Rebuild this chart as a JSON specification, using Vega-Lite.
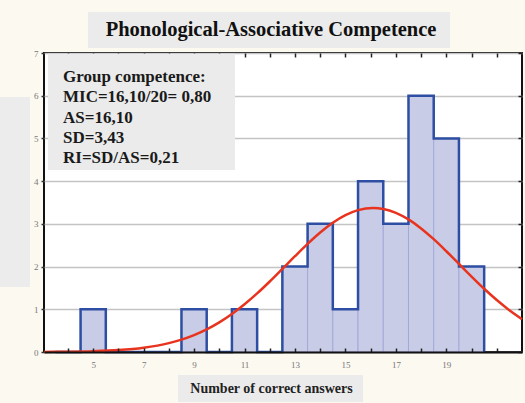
{
  "$schema": "https://vega.github.io/schema/vega-lite/v6.json",
  "width": 478,
  "height": 299,
  "autosize": {"type": "none"},
  "padding": {"left": 44, "top": 53, "right": 3, "bottom": 51},
  "background": "#fcf9f1",
  "config": {
    "view": {"stroke": "#111111", "strokeWidth": 2, "fill": "#ffffff"},
    "font": "Liberation Serif"
  },
  "datasets": {
    "bins": [
      {"bin_start": 3.5, "bin_end": 4.5, "count": 0},
      {"bin_start": 4.5, "bin_end": 5.5, "count": 1},
      {"bin_start": 5.5, "bin_end": 6.5, "count": 0},
      {"bin_start": 6.5, "bin_end": 7.5, "count": 0},
      {"bin_start": 7.5, "bin_end": 8.5, "count": 0},
      {"bin_start": 8.5, "bin_end": 9.5, "count": 1},
      {"bin_start": 9.5, "bin_end": 10.5, "count": 0},
      {"bin_start": 10.5, "bin_end": 11.5, "count": 1},
      {"bin_start": 11.5, "bin_end": 12.5, "count": 0},
      {"bin_start": 12.5, "bin_end": 13.5, "count": 2},
      {"bin_start": 13.5, "bin_end": 14.5, "count": 3},
      {"bin_start": 14.5, "bin_end": 15.5, "count": 1},
      {"bin_start": 15.5, "bin_end": 16.5, "count": 4},
      {"bin_start": 16.5, "bin_end": 17.5, "count": 3},
      {"bin_start": 17.5, "bin_end": 18.5, "count": 6},
      {"bin_start": 18.5, "bin_end": 19.5, "count": 5},
      {"bin_start": 19.5, "bin_end": 20.5, "count": 2},
      {"bin_start": 20.5, "bin_end": 21.5, "count": 0}
    ],
    "curve": [
      {"answers": 3.05, "expected": 0.0025},
      {"answers": 4, "expected": 0.0067},
      {"answers": 5, "expected": 0.018},
      {"answers": 6, "expected": 0.044},
      {"answers": 7, "expected": 0.1},
      {"answers": 8, "expected": 0.2075},
      {"answers": 8.5, "expected": 0.29},
      {"answers": 9, "expected": 0.396},
      {"answers": 9.5, "expected": 0.53},
      {"answers": 10, "expected": 0.694},
      {"answers": 10.5, "expected": 0.89},
      {"answers": 11, "expected": 1.117},
      {"answers": 11.5, "expected": 1.372},
      {"answers": 12, "expected": 1.651},
      {"answers": 12.5, "expected": 1.945},
      {"answers": 13, "expected": 2.242},
      {"answers": 13.5, "expected": 2.531},
      {"answers": 14, "expected": 2.797},
      {"answers": 14.5, "expected": 3.025},
      {"answers": 15, "expected": 3.204},
      {"answers": 15.5, "expected": 3.322},
      {"answers": 16.1, "expected": 3.373},
      {"answers": 16.5, "expected": 3.35},
      {"answers": 17, "expected": 3.259},
      {"answers": 17.5, "expected": 3.104},
      {"answers": 18, "expected": 2.893},
      {"answers": 18.5, "expected": 2.641},
      {"answers": 19, "expected": 2.359},
      {"answers": 19.5, "expected": 2.064},
      {"answers": 20, "expected": 1.767},
      {"answers": 20.5, "expected": 1.481},
      {"answers": 21, "expected": 1.216},
      {"answers": 21.5, "expected": 0.977},
      {"answers": 22, "expected": 0.768}
    ]
  },
  "layer": [
    {
      "data": {"values": [{}]},
      "mark": {"type": "rect", "fill": "#ececec"},
      "encoding": {
        "x": {"datum": 1.305, "type": "quantitative", "scale": {"domain": [3.05, 22], "nice": false}, "axis": null},
        "x2": {"datum": 2.495},
        "y": {"datum": 1.522, "type": "quantitative", "scale": {"domain": [0, 7], "nice": false}, "axis": null},
        "y2": {"datum": 5.97}
      }
    },
    {
      "data": {"values": [{}]},
      "mark": {"type": "rect", "fill": "#ebebeb"},
      "encoding": {
        "x": {"datum": 4.795, "type": "quantitative", "scale": {"domain": [3.05, 22], "nice": false}, "axis": null},
        "x2": {"datum": 19.148},
        "y": {"datum": 7.117, "type": "quantitative", "scale": {"domain": [0, 7], "nice": false}, "axis": null},
        "y2": {"datum": 7.96}
      }
    },
    {
      "data": {"values": [{}]},
      "mark": {
        "type": "text",
        "text": "Phonological-Associative Competence",
        "align": "center",
        "baseline": "middle",
        "font": "Liberation Serif",
        "fontSize": 20.5,
        "fontWeight": "bold",
        "color": "#111111"
      },
      "encoding": {
        "x": {"datum": 12.05, "type": "quantitative", "scale": {"domain": [3.05, 22], "nice": false}, "axis": null},
        "y": {"datum": 7.538, "type": "quantitative", "scale": {"domain": [0, 7], "nice": false}, "axis": null}
      }
    },
    {
      "data": {"values": [{}]},
      "mark": {"type": "rect", "fill": "#ebebeb"},
      "encoding": {
        "x": {"datum": 8.363, "type": "quantitative", "scale": {"domain": [3.05, 22], "nice": false}, "axis": null},
        "x2": {"datum": 15.699},
        "y": {"datum": -0.538, "type": "quantitative", "scale": {"domain": [0, 7], "nice": false}, "axis": null},
        "y2": {"datum": -1.171}
      }
    },
    {
      "data": {"name": "bins"},
      "transform": [{"filter": "datum.count > 0"}],
      "mark": {"type": "rect", "fill": "#c9cce6", "stroke": "#a3aad8", "strokeWidth": 1},
      "encoding": {
        "x": {
          "field": "bin_start",
          "type": "quantitative",
          "scale": {"domain": [3.05, 22], "nice": false},
          "axis": {
            "orient": "bottom",
            "values": [4, 5, 6, 7, 8, 9, 10, 11, 12, 13, 14, 15, 16, 17, 18, 19, 20, 21],
            "labelExpr": "datum.value % 2 == 1 && datum.value < 20 ? datum.label : ''",
            "tickSize": -4,
            "tickColor": "#222222",
            "tickWidth": 1.5,
            "domain": true,
            "domainColor": "#111111",
            "domainWidth": 2,
            "grid": false,
            "zindex": 1,
            "labelFont": "Liberation Serif",
            "labelFontSize": 9,
            "labelColor": "#777777",
            "labelPadding": 12,
            "title": "Number of correct answers",
            "titleFont": "Liberation Serif",
            "titleFontSize": 14,
            "titleFontWeight": "bold",
            "titleColor": "#222222",
            "titleX": 227,
            "titleY": 36,
            "titleAlign": "center",
            "titleBaseline": "middle"
          }
        },
        "x2": {"field": "bin_end"},
        "y": {
          "field": "count",
          "type": "quantitative",
          "scale": {"domain": [0, 7], "nice": false},
          "axis": {
            "orient": "left",
            "values": [0, 1, 2, 3, 4, 5, 6, 7],
            "tickSize": 3,
            "tickColor": "#333333",
            "tickWidth": 1.5,
            "domain": false,
            "grid": true,
            "gridColor": "#c4c4c4",
            "gridWidth": 1.5,
            "labelFont": "Liberation Serif",
            "labelFontSize": 9,
            "labelColor": "#777777",
            "labelPadding": 3,
            "title": null
          }
        },
        "y2": {"datum": 0}
      }
    },
    {
      "data": {"values": [{}]},
      "mark": {"type": "rect", "fill": "#ebebeb"},
      "encoding": {
        "x": {"datum": 3.209, "type": "quantitative", "scale": {"domain": [3.05, 22], "nice": false}, "axis": null},
        "x2": {"datum": 10.623},
        "y": {"datum": 4.261, "type": "quantitative", "scale": {"domain": [0, 7], "nice": false}, "axis": null},
        "y2": {"datum": 6.98}
      }
    },
    {
      "data": {"name": "bins"},
      "mark": {"type": "line", "interpolate": "step-after", "color": "#2d4ea2", "strokeWidth": 2.5},
      "encoding": {
        "x": {"field": "bin_start", "type": "quantitative", "scale": {"domain": [3.05, 22], "nice": false}, "axis": null},
        "y": {"field": "count", "type": "quantitative", "scale": {"domain": [0, 7], "nice": false}, "axis": null}
      }
    },
    {
      "data": {"name": "curve"},
      "mark": {"type": "line", "interpolate": "monotone", "color": "#e8341f", "strokeWidth": 2.5},
      "encoding": {
        "x": {
          "field": "answers",
          "type": "quantitative",
          "scale": {"domain": [3.05, 22], "nice": false},
          "axis": {
            "orient": "top",
            "values": [4, 5, 6, 7, 8, 9, 10, 11, 12, 13, 14, 15, 16, 17, 18, 19, 20, 21],
            "labels": false,
            "domain": false,
            "grid": false,
            "tickSize": -4,
            "tickColor": "#222222",
            "tickWidth": 1.5,
            "title": null
          }
        },
        "y": {
          "field": "expected",
          "type": "quantitative",
          "scale": {"domain": [0, 7], "nice": false},
          "axis": {
            "orient": "right",
            "values": [0, 1, 2, 3, 4, 5, 6, 7],
            "labels": false,
            "domain": false,
            "grid": false,
            "tickSize": -4,
            "tickColor": "#222222",
            "tickWidth": 1.5,
            "title": null
          }
        }
      }
    },
    {
      "data": {"values": [{}]},
      "mark": {
        "type": "text",
        "text": ["Group competence:", "MIC=16,10/20= 0,80", "AS=16,10", "SD=3,43", "RI=SD/AS=0,21"],
        "align": "left",
        "baseline": "middle",
        "font": "Liberation Serif",
        "fontSize": 17,
        "fontWeight": "bold",
        "lineHeight": 20.3,
        "color": "#1a1a1a"
      },
      "encoding": {
        "x": {"datum": 3.803, "type": "quantitative", "scale": {"domain": [3.05, 22], "nice": false}, "axis": null},
        "y": {"datum": 6.438, "type": "quantitative", "scale": {"domain": [0, 7], "nice": false}, "axis": null}
      }
    }
  ],
  "resolve": {"axis": {"x": "independent", "y": "independent"}}
}
